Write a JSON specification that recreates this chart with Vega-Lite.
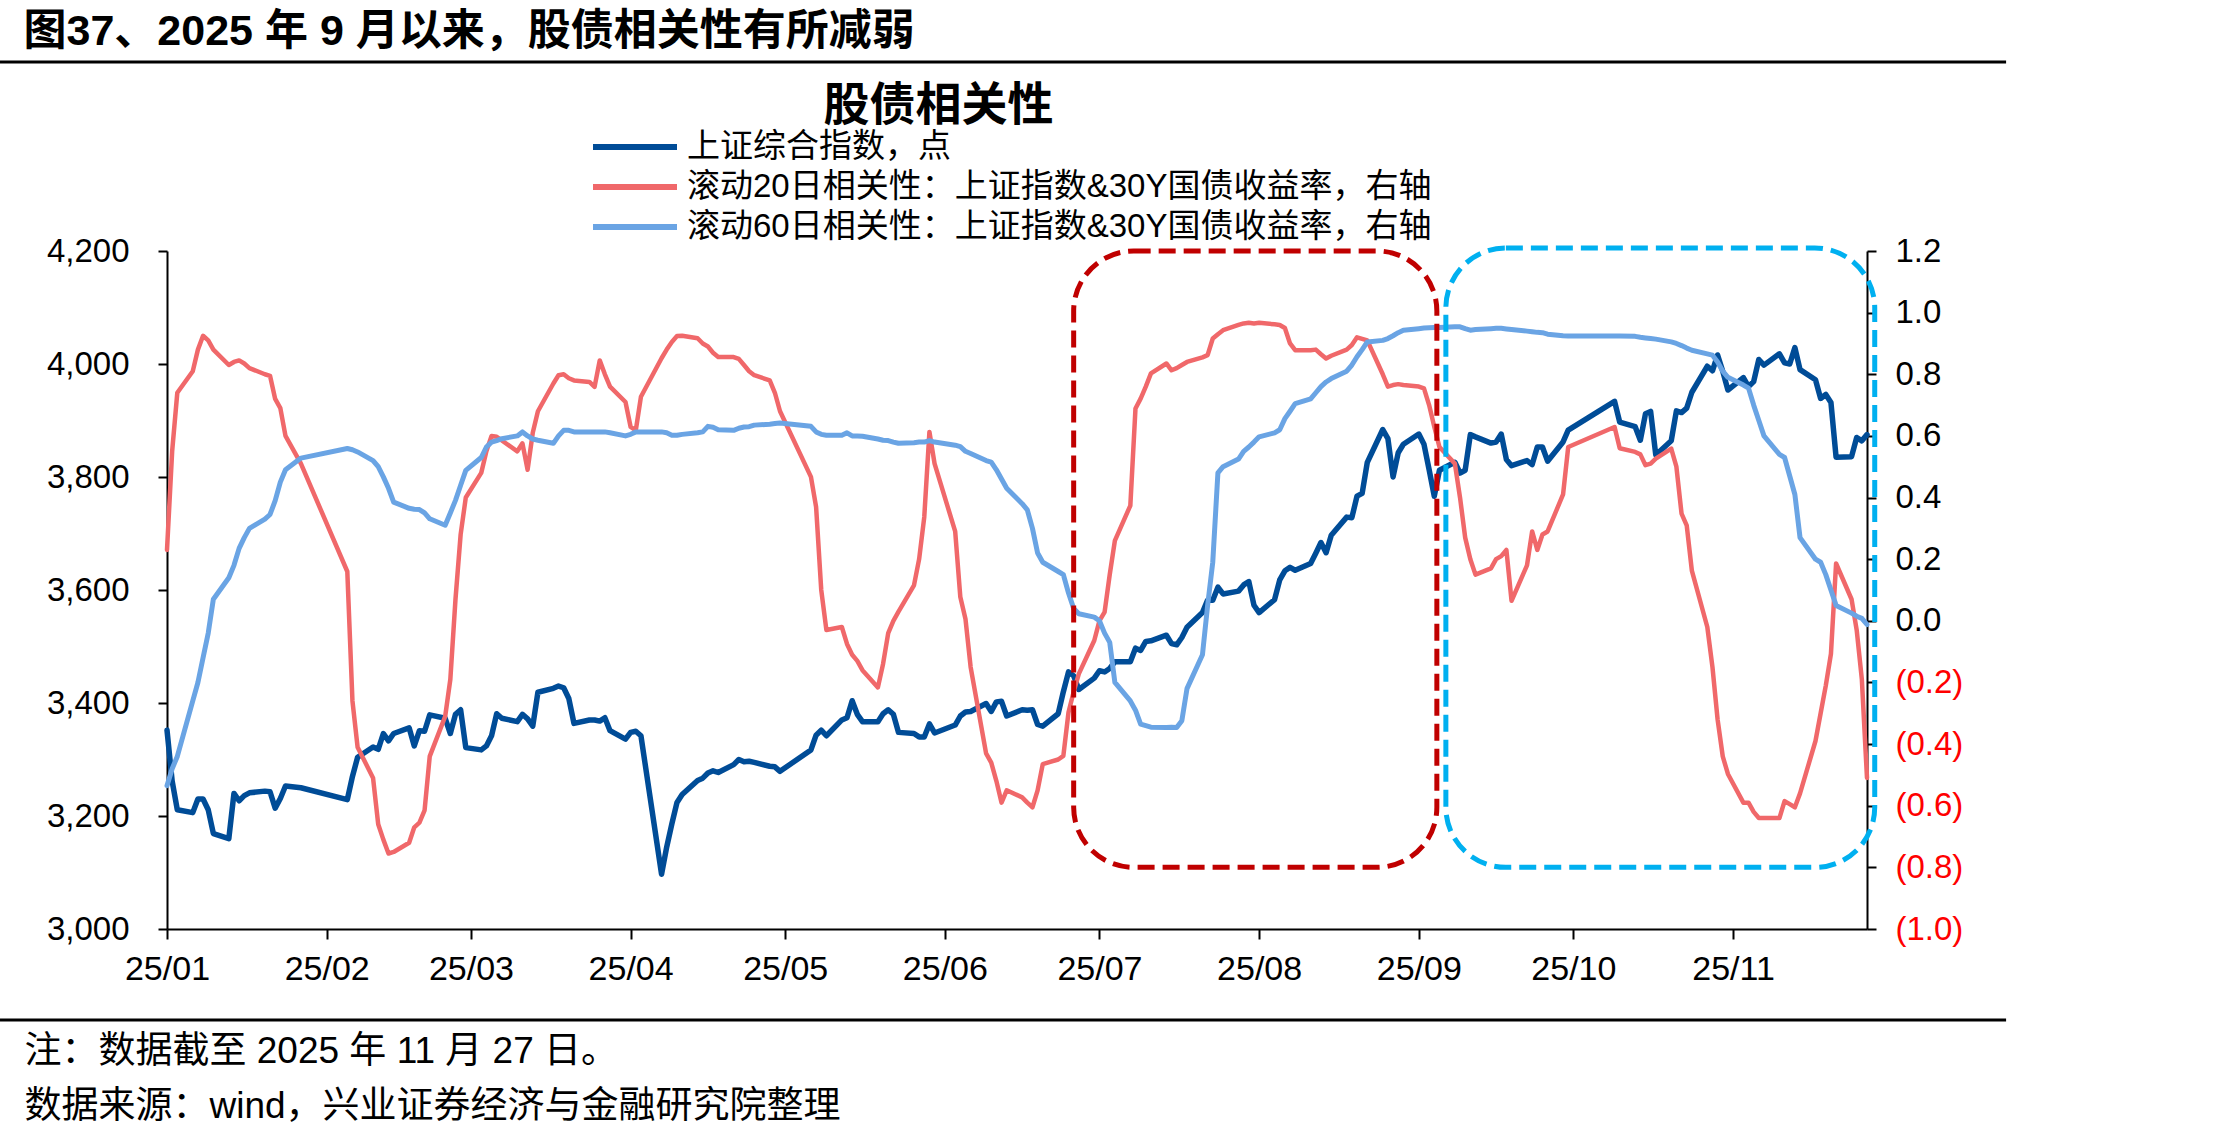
{
  "$schema": "https://vega.github.io/schema/vega-lite/v6.json",
  "width": 1700,
  "height": 678,
  "autosize": {"type": "none"},
  "padding": {"left": 167, "top": 251, "right": 354, "bottom": 210},
  "background": "#ffffff",
  "config": {
    "view": {"stroke": null},
    "font": "Liberation Sans, Noto Sans CJK SC, sans-serif",
    "axis": {
      "grid": false,
      "domainColor": "#000000",
      "domainWidth": 2,
      "tickColor": "#000000",
      "tickWidth": 2,
      "labelColor": "#000000",
      "labelFont": "Liberation Sans, Noto Sans CJK SC",
      "labelFontSize": 33,
      "titleFont": "Liberation Sans, Noto Sans CJK SC",
      "titleColor": "#000000",
      "titleLimit": 3000
    },
    "legend": {
      "orient": "none",
      "legendX": 423,
      "legendY": -124,
      "padding": 0,
      "offset": 0,
      "title": null,
      "symbolType": "stroke",
      "symbolSize": 7056,
      "symbolStrokeWidth": 6,
      "labelFont": "Liberation Sans, Noto Sans CJK SC",
      "labelFontSize": 33,
      "labelColor": "#000000",
      "labelOffset": 7,
      "labelLimit": 3000,
      "clipHeight": 40,
      "rowPadding": 0
    }
  },
  "datasets": {
    "sh": [
      {"date":"2025-01-01","value":3352},{"date":"2025-01-02","value":3262},{"date":"2025-01-03","value":3211},{"date":"2025-01-06","value":3206},{"date":"2025-01-07","value":3230},{"date":"2025-01-08","value":3230},{"date":"2025-01-09","value":3211},{"date":"2025-01-10","value":3169},{"date":"2025-01-13","value":3160},{"date":"2025-01-14","value":3240},{"date":"2025-01-15","value":3227},{"date":"2025-01-16","value":3236},{"date":"2025-01-17","value":3241},{"date":"2025-01-20","value":3244},{"date":"2025-01-21","value":3243},{"date":"2025-01-22","value":3214},{"date":"2025-01-23","value":3231},{"date":"2025-01-24","value":3253},{"date":"2025-01-27","value":3250},
      {"date":"2025-02-05","value":3229},{"date":"2025-02-06","value":3270},{"date":"2025-02-07","value":3304},{"date":"2025-02-10","value":3322},{"date":"2025-02-11","value":3318},{"date":"2025-02-12","value":3346},{"date":"2025-02-13","value":3333},{"date":"2025-02-14","value":3346},{"date":"2025-02-17","value":3356},{"date":"2025-02-18","value":3324},{"date":"2025-02-19","value":3351},{"date":"2025-02-20","value":3350},{"date":"2025-02-21","value":3379},{"date":"2025-02-24","value":3373},{"date":"2025-02-25","value":3346},{"date":"2025-02-26","value":3380},{"date":"2025-02-27","value":3388},{"date":"2025-02-28","value":3321},
      {"date":"2025-03-03","value":3317},{"date":"2025-03-04","value":3324},{"date":"2025-03-05","value":3342},{"date":"2025-03-06","value":3381},{"date":"2025-03-07","value":3373},{"date":"2025-03-10","value":3367},{"date":"2025-03-11","value":3380},{"date":"2025-03-12","value":3372},{"date":"2025-03-13","value":3359},{"date":"2025-03-14","value":3419},{"date":"2025-03-17","value":3426},{"date":"2025-03-18","value":3430},{"date":"2025-03-19","value":3427},{"date":"2025-03-20","value":3408},{"date":"2025-03-21","value":3364},{"date":"2025-03-24","value":3370},{"date":"2025-03-25","value":3370},{"date":"2025-03-26","value":3368},{"date":"2025-03-27","value":3374},{"date":"2025-03-28","value":3351},{"date":"2025-03-31","value":3336},
      {"date":"2025-04-01","value":3348},{"date":"2025-04-02","value":3350},{"date":"2025-04-03","value":3342},{"date":"2025-04-07","value":3097},{"date":"2025-04-08","value":3145},{"date":"2025-04-09","value":3186},{"date":"2025-04-10","value":3224},{"date":"2025-04-11","value":3238},{"date":"2025-04-14","value":3263},{"date":"2025-04-15","value":3267},{"date":"2025-04-16","value":3276},{"date":"2025-04-17","value":3280},{"date":"2025-04-18","value":3277},{"date":"2025-04-21","value":3291},{"date":"2025-04-22","value":3300},{"date":"2025-04-23","value":3296},{"date":"2025-04-24","value":3297},{"date":"2025-04-25","value":3295},{"date":"2025-04-28","value":3288},{"date":"2025-04-29","value":3287},{"date":"2025-04-30","value":3279},
      {"date":"2025-05-06","value":3317},{"date":"2025-05-07","value":3343},{"date":"2025-05-08","value":3352},{"date":"2025-05-09","value":3342},{"date":"2025-05-12","value":3370},{"date":"2025-05-13","value":3374},{"date":"2025-05-14","value":3404},{"date":"2025-05-15","value":3380},{"date":"2025-05-16","value":3367},{"date":"2025-05-19","value":3367},{"date":"2025-05-20","value":3381},{"date":"2025-05-21","value":3388},{"date":"2025-05-22","value":3380},{"date":"2025-05-23","value":3348},{"date":"2025-05-26","value":3346},{"date":"2025-05-27","value":3340},{"date":"2025-05-28","value":3340},{"date":"2025-05-29","value":3363},{"date":"2025-05-30","value":3347},
      {"date":"2025-06-03","value":3361},{"date":"2025-06-04","value":3377},{"date":"2025-06-05","value":3384},{"date":"2025-06-06","value":3385},{"date":"2025-06-09","value":3399},{"date":"2025-06-10","value":3385},{"date":"2025-06-11","value":3402},{"date":"2025-06-12","value":3403},{"date":"2025-06-13","value":3377},{"date":"2025-06-16","value":3388},{"date":"2025-06-17","value":3387},{"date":"2025-06-18","value":3388},{"date":"2025-06-19","value":3362},{"date":"2025-06-20","value":3359},{"date":"2025-06-23","value":3381},{"date":"2025-06-24","value":3420},{"date":"2025-06-25","value":3455},{"date":"2025-06-26","value":3448},{"date":"2025-06-27","value":3424},{"date":"2025-06-30","value":3444},
      {"date":"2025-07-01","value":3457},{"date":"2025-07-02","value":3455},{"date":"2025-07-03","value":3461},{"date":"2025-07-04","value":3473},{"date":"2025-07-07","value":3473},{"date":"2025-07-08","value":3497},{"date":"2025-07-09","value":3493},{"date":"2025-07-10","value":3509},{"date":"2025-07-11","value":3510},{"date":"2025-07-14","value":3520},{"date":"2025-07-15","value":3505},{"date":"2025-07-16","value":3503},{"date":"2025-07-17","value":3516},{"date":"2025-07-18","value":3534},{"date":"2025-07-21","value":3560},{"date":"2025-07-22","value":3582},{"date":"2025-07-23","value":3582},{"date":"2025-07-24","value":3605},{"date":"2025-07-25","value":3593},{"date":"2025-07-28","value":3598},{"date":"2025-07-29","value":3609},{"date":"2025-07-30","value":3615},{"date":"2025-07-31","value":3573},
      {"date":"2025-08-01","value":3560},{"date":"2025-08-04","value":3583},{"date":"2025-08-05","value":3618},{"date":"2025-08-06","value":3634},{"date":"2025-08-07","value":3640},{"date":"2025-08-08","value":3635},{"date":"2025-08-11","value":3647},{"date":"2025-08-12","value":3665},{"date":"2025-08-13","value":3684},{"date":"2025-08-14","value":3666},{"date":"2025-08-15","value":3697},{"date":"2025-08-18","value":3729},{"date":"2025-08-19","value":3728},{"date":"2025-08-20","value":3766},{"date":"2025-08-21","value":3771},{"date":"2025-08-22","value":3826},{"date":"2025-08-25","value":3884},{"date":"2025-08-26","value":3868},{"date":"2025-08-27","value":3800},{"date":"2025-08-28","value":3843},{"date":"2025-08-29","value":3858},
      {"date":"2025-09-01","value":3876},{"date":"2025-09-02","value":3858},{"date":"2025-09-03","value":3813},{"date":"2025-09-04","value":3766},{"date":"2025-09-05","value":3812},{"date":"2025-09-08","value":3826},{"date":"2025-09-09","value":3807},{"date":"2025-09-10","value":3812},{"date":"2025-09-11","value":3875},{"date":"2025-09-12","value":3871},{"date":"2025-09-15","value":3860},{"date":"2025-09-16","value":3862},{"date":"2025-09-17","value":3876},{"date":"2025-09-18","value":3831},{"date":"2025-09-19","value":3820},{"date":"2025-09-22","value":3829},{"date":"2025-09-23","value":3822},{"date":"2025-09-24","value":3853},{"date":"2025-09-25","value":3853},{"date":"2025-09-26","value":3828},{"date":"2025-09-29","value":3862},{"date":"2025-09-30","value":3883},
      {"date":"2025-10-09","value":3934},{"date":"2025-10-10","value":3897},{"date":"2025-10-13","value":3889},{"date":"2025-10-14","value":3865},{"date":"2025-10-15","value":3912},{"date":"2025-10-16","value":3916},{"date":"2025-10-17","value":3839},{"date":"2025-10-20","value":3864},{"date":"2025-10-21","value":3917},{"date":"2025-10-22","value":3914},{"date":"2025-10-23","value":3922},{"date":"2025-10-24","value":3950},{"date":"2025-10-27","value":3996},{"date":"2025-10-28","value":3988},{"date":"2025-10-29","value":4016},{"date":"2025-10-30","value":3987},{"date":"2025-10-31","value":3954},
      {"date":"2025-11-03","value":3976},{"date":"2025-11-04","value":3960},{"date":"2025-11-05","value":3969},{"date":"2025-11-06","value":4008},{"date":"2025-11-07","value":3998},{"date":"2025-11-10","value":4018},{"date":"2025-11-11","value":4002},{"date":"2025-11-12","value":4000},{"date":"2025-11-13","value":4029},{"date":"2025-11-14","value":3990},{"date":"2025-11-17","value":3972},{"date":"2025-11-18","value":3939},{"date":"2025-11-19","value":3946},{"date":"2025-11-20","value":3932},{"date":"2025-11-21","value":3835},{"date":"2025-11-24","value":3836},{"date":"2025-11-25","value":3870},{"date":"2025-11-26","value":3864},{"date":"2025-11-27","value":3875}
    ],
    "c20": [
      {"date":"2025-01-01","value":0.23},{"date":"2025-01-02","value":0.55},{"date":"2025-01-03","value":0.74},{"date":"2025-01-06","value":0.81},{"date":"2025-01-07","value":0.88},{"date":"2025-01-08","value":0.925},{"date":"2025-01-09","value":0.91},{"date":"2025-01-10","value":0.88},{"date":"2025-01-13","value":0.83},{"date":"2025-01-14","value":0.84},{"date":"2025-01-15","value":0.845},{"date":"2025-01-16","value":0.835},{"date":"2025-01-17","value":0.82},{"date":"2025-01-20","value":0.8},{"date":"2025-01-21","value":0.795},{"date":"2025-01-22","value":0.72},{"date":"2025-01-23","value":0.69},{"date":"2025-01-24","value":0.6},{"date":"2025-01-27","value":0.51},
      {"date":"2025-02-05","value":0.16},{"date":"2025-02-06","value":-0.26},{"date":"2025-02-07","value":-0.41},{"date":"2025-02-10","value":-0.51},{"date":"2025-02-11","value":-0.66},{"date":"2025-02-12","value":-0.71},{"date":"2025-02-13","value":-0.755},{"date":"2025-02-14","value":-0.75},{"date":"2025-02-17","value":-0.72},{"date":"2025-02-18","value":-0.67},{"date":"2025-02-19","value":-0.655},{"date":"2025-02-20","value":-0.615},{"date":"2025-02-21","value":-0.44},{"date":"2025-02-24","value":-0.31},{"date":"2025-02-25","value":-0.19},{"date":"2025-02-26","value":0.07},{"date":"2025-02-27","value":0.28},{"date":"2025-02-28","value":0.4},
      {"date":"2025-03-03","value":0.48},{"date":"2025-03-04","value":0.55},{"date":"2025-03-05","value":0.6},{"date":"2025-03-06","value":0.597},{"date":"2025-03-07","value":0.585},{"date":"2025-03-10","value":0.55},{"date":"2025-03-11","value":0.576},{"date":"2025-03-12","value":0.49},{"date":"2025-03-13","value":0.61},{"date":"2025-03-14","value":0.68},{"date":"2025-03-17","value":0.77},{"date":"2025-03-18","value":0.797},{"date":"2025-03-19","value":0.8},{"date":"2025-03-20","value":0.787},{"date":"2025-03-21","value":0.78},{"date":"2025-03-24","value":0.775},{"date":"2025-03-25","value":0.759},{"date":"2025-03-26","value":0.845},{"date":"2025-03-27","value":0.8},{"date":"2025-03-28","value":0.76},{"date":"2025-03-31","value":0.71},
      {"date":"2025-04-01","value":0.629},{"date":"2025-04-02","value":0.618},{"date":"2025-04-03","value":0.727},{"date":"2025-04-07","value":0.852},{"date":"2025-04-08","value":0.88},{"date":"2025-04-09","value":0.905},{"date":"2025-04-10","value":0.924},{"date":"2025-04-11","value":0.925},{"date":"2025-04-14","value":0.917},{"date":"2025-04-15","value":0.9},{"date":"2025-04-16","value":0.89},{"date":"2025-04-17","value":0.87},{"date":"2025-04-18","value":0.856},{"date":"2025-04-21","value":0.856},{"date":"2025-04-22","value":0.85},{"date":"2025-04-23","value":0.83},{"date":"2025-04-24","value":0.81},{"date":"2025-04-25","value":0.797},{"date":"2025-04-28","value":0.78},{"date":"2025-04-29","value":0.74},{"date":"2025-04-30","value":0.68},
      {"date":"2025-05-06","value":0.467},{"date":"2025-05-07","value":0.37},{"date":"2025-05-08","value":0.1},{"date":"2025-05-09","value":-0.03},{"date":"2025-05-12","value":-0.02},{"date":"2025-05-13","value":-0.075},{"date":"2025-05-14","value":-0.11},{"date":"2025-05-15","value":-0.13},{"date":"2025-05-16","value":-0.16},{"date":"2025-05-19","value":-0.216},{"date":"2025-05-20","value":-0.14},{"date":"2025-05-21","value":-0.04},{"date":"2025-05-22","value":0.0},{"date":"2025-05-23","value":0.03},{"date":"2025-05-26","value":0.115},{"date":"2025-05-27","value":0.2},{"date":"2025-05-28","value":0.337},{"date":"2025-05-29","value":0.613},{"date":"2025-05-30","value":0.51},
      {"date":"2025-06-03","value":0.29},{"date":"2025-06-04","value":0.077},{"date":"2025-06-05","value":0.006},{"date":"2025-06-06","value":-0.15},{"date":"2025-06-09","value":-0.43},{"date":"2025-06-10","value":-0.46},{"date":"2025-06-11","value":-0.52},{"date":"2025-06-12","value":-0.59},{"date":"2025-06-13","value":-0.55},{"date":"2025-06-16","value":-0.573},{"date":"2025-06-17","value":-0.59},{"date":"2025-06-18","value":-0.605},{"date":"2025-06-19","value":-0.55},{"date":"2025-06-20","value":-0.465},{"date":"2025-06-23","value":-0.45},{"date":"2025-06-24","value":-0.438},{"date":"2025-06-25","value":-0.297},{"date":"2025-06-26","value":-0.23},{"date":"2025-06-27","value":-0.172},{"date":"2025-06-30","value":-0.064},
      {"date":"2025-07-01","value":0.0},{"date":"2025-07-02","value":0.028},{"date":"2025-07-03","value":0.15},{"date":"2025-07-04","value":0.26},{"date":"2025-07-07","value":0.374},{"date":"2025-07-08","value":0.689},{"date":"2025-07-09","value":0.721},{"date":"2025-07-10","value":0.76},{"date":"2025-07-11","value":0.803},{"date":"2025-07-14","value":0.835},{"date":"2025-07-15","value":0.813},{"date":"2025-07-16","value":0.82},{"date":"2025-07-17","value":0.83},{"date":"2025-07-18","value":0.84},{"date":"2025-07-21","value":0.855},{"date":"2025-07-22","value":0.862},{"date":"2025-07-23","value":0.916},{"date":"2025-07-24","value":0.93},{"date":"2025-07-25","value":0.943},{"date":"2025-07-28","value":0.96},{"date":"2025-07-29","value":0.965},{"date":"2025-07-30","value":0.967},{"date":"2025-07-31","value":0.965},
      {"date":"2025-08-01","value":0.967},{"date":"2025-08-04","value":0.962},{"date":"2025-08-05","value":0.96},{"date":"2025-08-06","value":0.95},{"date":"2025-08-07","value":0.9},{"date":"2025-08-08","value":0.878},{"date":"2025-08-11","value":0.878},{"date":"2025-08-12","value":0.88},{"date":"2025-08-13","value":0.865},{"date":"2025-08-14","value":0.851},{"date":"2025-08-15","value":0.86},{"date":"2025-08-18","value":0.88},{"date":"2025-08-19","value":0.895},{"date":"2025-08-20","value":0.92},{"date":"2025-08-21","value":0.915},{"date":"2025-08-22","value":0.91},{"date":"2025-08-25","value":0.8},{"date":"2025-08-26","value":0.76},{"date":"2025-08-27","value":0.765},{"date":"2025-08-28","value":0.768},{"date":"2025-08-29","value":0.765},
      {"date":"2025-09-01","value":0.76},{"date":"2025-09-02","value":0.754},{"date":"2025-09-03","value":0.7},{"date":"2025-09-04","value":0.63},{"date":"2025-09-05","value":0.564},{"date":"2025-09-08","value":0.51},{"date":"2025-09-09","value":0.4},{"date":"2025-09-10","value":0.27},{"date":"2025-09-11","value":0.2},{"date":"2025-09-12","value":0.15},{"date":"2025-09-15","value":0.17},{"date":"2025-09-16","value":0.2},{"date":"2025-09-17","value":0.21},{"date":"2025-09-18","value":0.23},{"date":"2025-09-19","value":0.065},{"date":"2025-09-22","value":0.18},{"date":"2025-09-23","value":0.29},{"date":"2025-09-24","value":0.23},{"date":"2025-09-25","value":0.28},{"date":"2025-09-26","value":0.29},{"date":"2025-09-29","value":0.41},{"date":"2025-09-30","value":0.564},
      {"date":"2025-10-09","value":0.629},{"date":"2025-10-10","value":0.56},{"date":"2025-10-13","value":0.548},{"date":"2025-10-14","value":0.54},{"date":"2025-10-15","value":0.505},{"date":"2025-10-16","value":0.51},{"date":"2025-10-17","value":0.526},{"date":"2025-10-20","value":0.559},{"date":"2025-10-21","value":0.5},{"date":"2025-10-22","value":0.348},{"date":"2025-10-23","value":0.31},{"date":"2025-10-24","value":0.163},{"date":"2025-10-27","value":-0.02},{"date":"2025-10-28","value":-0.15},{"date":"2025-10-29","value":-0.32},{"date":"2025-10-30","value":-0.44},{"date":"2025-10-31","value":-0.497},
      {"date":"2025-11-03","value":-0.59},{"date":"2025-11-04","value":-0.59},{"date":"2025-11-05","value":-0.62},{"date":"2025-11-06","value":-0.64},{"date":"2025-11-07","value":-0.64},{"date":"2025-11-10","value":-0.64},{"date":"2025-11-11","value":-0.585},{"date":"2025-11-12","value":-0.595},{"date":"2025-11-13","value":-0.605},{"date":"2025-11-14","value":-0.56},{"date":"2025-11-17","value":-0.39},{"date":"2025-11-18","value":-0.3},{"date":"2025-11-19","value":-0.21},{"date":"2025-11-20","value":-0.107},{"date":"2025-11-21","value":0.186},{"date":"2025-11-24","value":0.07},{"date":"2025-11-25","value":-0.03},{"date":"2025-11-26","value":-0.19},{"date":"2025-11-27","value":-0.51}
    ],
    "c60": [
      {"date":"2025-01-01","value":-0.535},{"date":"2025-01-02","value":-0.48},{"date":"2025-01-03","value":-0.44},{"date":"2025-01-06","value":-0.26},{"date":"2025-01-07","value":-0.2},{"date":"2025-01-08","value":-0.12},{"date":"2025-01-09","value":-0.04},{"date":"2025-01-10","value":0.07},{"date":"2025-01-13","value":0.14},{"date":"2025-01-14","value":0.18},{"date":"2025-01-15","value":0.235},{"date":"2025-01-16","value":0.27},{"date":"2025-01-17","value":0.3},{"date":"2025-01-20","value":0.33},{"date":"2025-01-21","value":0.345},{"date":"2025-01-22","value":0.39},{"date":"2025-01-23","value":0.45},{"date":"2025-01-24","value":0.49},{"date":"2025-01-27","value":0.528},
      {"date":"2025-02-05","value":0.559},{"date":"2025-02-06","value":0.555},{"date":"2025-02-07","value":0.548},{"date":"2025-02-10","value":0.52},{"date":"2025-02-11","value":0.5},{"date":"2025-02-12","value":0.467},{"date":"2025-02-13","value":0.43},{"date":"2025-02-14","value":0.385},{"date":"2025-02-17","value":0.365},{"date":"2025-02-18","value":0.362},{"date":"2025-02-19","value":0.361},{"date":"2025-02-20","value":0.35},{"date":"2025-02-21","value":0.331},{"date":"2025-02-24","value":0.31},{"date":"2025-02-25","value":0.35},{"date":"2025-02-26","value":0.391},{"date":"2025-02-27","value":0.44},{"date":"2025-02-28","value":0.488},
      {"date":"2025-03-03","value":0.53},{"date":"2025-03-04","value":0.564},{"date":"2025-03-05","value":0.58},{"date":"2025-03-06","value":0.585},{"date":"2025-03-07","value":0.591},{"date":"2025-03-10","value":0.6},{"date":"2025-03-11","value":0.613},{"date":"2025-03-12","value":0.6},{"date":"2025-03-13","value":0.59},{"date":"2025-03-14","value":0.586},{"date":"2025-03-17","value":0.576},{"date":"2025-03-18","value":0.6},{"date":"2025-03-19","value":0.618},{"date":"2025-03-20","value":0.618},{"date":"2025-03-21","value":0.613},{"date":"2025-03-24","value":0.613},{"date":"2025-03-25","value":0.613},{"date":"2025-03-26","value":0.613},{"date":"2025-03-27","value":0.613},{"date":"2025-03-28","value":0.61},{"date":"2025-03-31","value":0.6},
      {"date":"2025-04-01","value":0.605},{"date":"2025-04-02","value":0.613},{"date":"2025-04-03","value":0.613},{"date":"2025-04-07","value":0.613},{"date":"2025-04-08","value":0.61},{"date":"2025-04-09","value":0.602},{"date":"2025-04-10","value":0.602},{"date":"2025-04-11","value":0.605},{"date":"2025-04-14","value":0.61},{"date":"2025-04-15","value":0.613},{"date":"2025-04-16","value":0.631},{"date":"2025-04-17","value":0.628},{"date":"2025-04-18","value":0.62},{"date":"2025-04-21","value":0.618},{"date":"2025-04-22","value":0.625},{"date":"2025-04-23","value":0.629},{"date":"2025-04-24","value":0.63},{"date":"2025-04-25","value":0.635},{"date":"2025-04-28","value":0.638},{"date":"2025-04-29","value":0.64},{"date":"2025-04-30","value":0.642},
      {"date":"2025-05-06","value":0.631},{"date":"2025-05-07","value":0.613},{"date":"2025-05-08","value":0.605},{"date":"2025-05-09","value":0.602},{"date":"2025-05-12","value":0.602},{"date":"2025-05-13","value":0.61},{"date":"2025-05-14","value":0.6},{"date":"2025-05-15","value":0.6},{"date":"2025-05-16","value":0.599},{"date":"2025-05-19","value":0.59},{"date":"2025-05-20","value":0.586},{"date":"2025-05-21","value":0.585},{"date":"2025-05-22","value":0.58},{"date":"2025-05-23","value":0.576},{"date":"2025-05-26","value":0.578},{"date":"2025-05-27","value":0.58},{"date":"2025-05-28","value":0.58},{"date":"2025-05-29","value":0.585},{"date":"2025-05-30","value":0.58},
      {"date":"2025-06-03","value":0.57},{"date":"2025-06-04","value":0.565},{"date":"2025-06-05","value":0.55},{"date":"2025-06-06","value":0.543},{"date":"2025-06-09","value":0.52},{"date":"2025-06-10","value":0.515},{"date":"2025-06-11","value":0.49},{"date":"2025-06-12","value":0.46},{"date":"2025-06-13","value":0.43},{"date":"2025-06-16","value":0.38},{"date":"2025-06-17","value":0.36},{"date":"2025-06-18","value":0.3},{"date":"2025-06-19","value":0.22},{"date":"2025-06-20","value":0.19},{"date":"2025-06-23","value":0.16},{"date":"2025-06-24","value":0.15},{"date":"2025-06-25","value":0.09},{"date":"2025-06-26","value":0.04},{"date":"2025-06-27","value":0.023},{"date":"2025-06-30","value":0.012},
      {"date":"2025-07-01","value":0.0},{"date":"2025-07-02","value":-0.04},{"date":"2025-07-03","value":-0.07},{"date":"2025-07-04","value":-0.2},{"date":"2025-07-07","value":-0.26},{"date":"2025-07-08","value":-0.29},{"date":"2025-07-09","value":-0.335},{"date":"2025-07-10","value":-0.34},{"date":"2025-07-11","value":-0.345},{"date":"2025-07-14","value":-0.346},{"date":"2025-07-15","value":-0.345},{"date":"2025-07-16","value":-0.346},{"date":"2025-07-17","value":-0.324},{"date":"2025-07-18","value":-0.22},{"date":"2025-07-21","value":-0.11},{"date":"2025-07-22","value":0.05},{"date":"2025-07-23","value":0.19},{"date":"2025-07-24","value":0.48},{"date":"2025-07-25","value":0.5},{"date":"2025-07-28","value":0.525},{"date":"2025-07-29","value":0.55},{"date":"2025-07-30","value":0.564},{"date":"2025-07-31","value":0.58},
      {"date":"2025-08-01","value":0.597},{"date":"2025-08-04","value":0.61},{"date":"2025-08-05","value":0.62},{"date":"2025-08-06","value":0.656},{"date":"2025-08-07","value":0.68},{"date":"2025-08-08","value":0.705},{"date":"2025-08-11","value":0.72},{"date":"2025-08-12","value":0.74},{"date":"2025-08-13","value":0.76},{"date":"2025-08-14","value":0.775},{"date":"2025-08-15","value":0.786},{"date":"2025-08-18","value":0.81},{"date":"2025-08-19","value":0.83},{"date":"2025-08-20","value":0.857},{"date":"2025-08-21","value":0.88},{"date":"2025-08-22","value":0.905},{"date":"2025-08-25","value":0.91},{"date":"2025-08-26","value":0.916},{"date":"2025-08-27","value":0.925},{"date":"2025-08-28","value":0.935},{"date":"2025-08-29","value":0.943},
      {"date":"2025-09-01","value":0.948},{"date":"2025-09-02","value":0.95},{"date":"2025-09-03","value":0.951},{"date":"2025-09-04","value":0.952},{"date":"2025-09-05","value":0.952},{"date":"2025-09-08","value":0.954},{"date":"2025-09-09","value":0.954},{"date":"2025-09-10","value":0.948},{"date":"2025-09-11","value":0.943},{"date":"2025-09-12","value":0.945},{"date":"2025-09-15","value":0.948},{"date":"2025-09-16","value":0.949},{"date":"2025-09-17","value":0.949},{"date":"2025-09-18","value":0.947},{"date":"2025-09-19","value":0.945},{"date":"2025-09-22","value":0.94},{"date":"2025-09-23","value":0.938},{"date":"2025-09-24","value":0.936},{"date":"2025-09-25","value":0.935},{"date":"2025-09-26","value":0.93},{"date":"2025-09-29","value":0.925},{"date":"2025-09-30","value":0.924},
      {"date":"2025-10-09","value":0.924},{"date":"2025-10-10","value":0.924},{"date":"2025-10-13","value":0.923},{"date":"2025-10-14","value":0.92},{"date":"2025-10-15","value":0.918},{"date":"2025-10-16","value":0.916},{"date":"2025-10-17","value":0.914},{"date":"2025-10-20","value":0.905},{"date":"2025-10-21","value":0.9},{"date":"2025-10-22","value":0.893},{"date":"2025-10-23","value":0.885},{"date":"2025-10-24","value":0.878},{"date":"2025-10-27","value":0.866},{"date":"2025-10-28","value":0.862},{"date":"2025-10-29","value":0.84},{"date":"2025-10-30","value":0.81},{"date":"2025-10-31","value":0.79},
      {"date":"2025-11-03","value":0.765},{"date":"2025-11-04","value":0.755},{"date":"2025-11-05","value":0.7},{"date":"2025-11-06","value":0.65},{"date":"2025-11-07","value":0.6},{"date":"2025-11-10","value":0.54},{"date":"2025-11-11","value":0.53},{"date":"2025-11-12","value":0.47},{"date":"2025-11-13","value":0.41},{"date":"2025-11-14","value":0.27},{"date":"2025-11-17","value":0.2},{"date":"2025-11-18","value":0.19},{"date":"2025-11-19","value":0.15},{"date":"2025-11-20","value":0.1},{"date":"2025-11-21","value":0.05},{"date":"2025-11-24","value":0.025},{"date":"2025-11-25","value":0.015},{"date":"2025-11-26","value":0.008},{"date":"2025-11-27","value":-0.012}
    ],
    "zones": [
      {"zone":"a","start":"2025-06-26T00:00:00Z","end":"2025-09-04T12:00:00Z","low":-0.8,"high":1.2},
      {"zone":"b","start":"2025-09-06T06:00:00Z","end":"2025-11-28T12:00:00Z","low":-0.8,"high":1.21}
    ]
  },
  "layer": [
    {
      "data": {"name": "sh"},
      "mark": {"type": "line", "strokeWidth": 5.5, "strokeJoin": "round", "strokeCap": "round"},
      "encoding": {
        "x": {
          "field": "date", "type": "temporal",
          "scale": {"type": "utc", "domain": ["2025-01-01T00:00:00Z", "2025-11-27T00:00:00Z"]},
          "axis": {
            "orient": "bottom",
            "tickCount": {"interval": "month", "step": 1},
            "labelExpr": "utcFormat(datum.value, '%y/%m')",
            "tickSize": 10, "labelPadding": 13, "labelFontSize": 34,
            "labelFlush": false, "labelOverlap": false,
            "title": ["注：数据截至 2025 年 11 月 27 日。", "数据来源：wind，兴业证券经济与金融研究院整理"],
            "titleX": -143, "titleY": 133, "titleAlign": "left", "titleAnchor": "start",
            "titleBaseline": "alphabetic", "titleAngle": 0,
            "titleFontSize": 37, "titleFontWeight": "normal", "titleLineHeight": 55
          }
        },
        "y": {
          "field": "value", "type": "quantitative",
          "scale": {"domain": [3000, 4200], "zero": false, "nice": false},
          "axis": {
            "orient": "left",
            "values": [3000, 3200, 3400, 3600, 3800, 4000, 4200],
            "format": ",d",
            "tickSize": 9, "labelPadding": 29,
            "title": "图37、2025 年 9 月以来，股债相关性有所减弱",
            "titleAngle": 0, "titleAlign": "left", "titleAnchor": "start", "titleBaseline": "alphabetic",
            "titleX": -144, "titleY": -207,
            "titleFontSize": 43, "titleFontWeight": "bold"
          }
        },
        "color": {
          "datum": "上证综合指数，点",
          "scale": {
            "domain": ["上证综合指数，点", "滚动20日相关性：上证指数&30Y国债收益率，右轴", "滚动60日相关性：上证指数&30Y国债收益率，右轴"],
            "range": ["#004C97", "#F0686A", "#6AA4E4"]
          },
          "legend": {"orient": "none", "direction": "vertical"}
        }
      }
    },
    {
      "data": {"name": "c20"},
      "mark": {"type": "line", "strokeWidth": 4.5, "strokeJoin": "round", "strokeCap": "round"},
      "encoding": {
        "x": {
          "field": "date", "type": "temporal",
          "axis": {
            "orient": "top", "domain": false, "ticks": false, "labels": false,
            "title": "股债相关性",
            "titleX": 771, "titleY": -132, "titleAlign": "center", "titleBaseline": "alphabetic", "titleAngle": 0,
            "titleFontSize": 46, "titleFontWeight": "bold"
          }
        },
        "y": {
          "field": "value", "type": "quantitative",
          "scale": {"domain": [-1, 1.2], "zero": false, "nice": false},
          "axis": {
            "orient": "right",
            "values": [-1, -0.8, -0.6, -0.4, -0.2, 0, 0.2, 0.4, 0.6, 0.8, 1, 1.2],
            "labelExpr": "datum.value < 0 ? '(' + format(-datum.value, '.1f') + ')' : format(datum.value, '.1f')",
            "labelColor": {"condition": {"test": "datum.value < 0", "value": "#FF0000"}, "value": "#000000"},
            "tickSize": 9, "labelPadding": 19, "labelFontSize": 33,
            "title": null
          }
        },
        "color": {"datum": "滚动20日相关性：上证指数&30Y国债收益率，右轴"}
      }
    },
    {
      "data": {"name": "c60"},
      "mark": {"type": "line", "strokeWidth": 5, "strokeJoin": "round", "strokeCap": "round"},
      "encoding": {
        "x": {"field": "date", "type": "temporal", "axis": null},
        "y": {"field": "value", "type": "quantitative", "scale": {"domain": [-1, 1.2], "zero": false, "nice": false}, "axis": null},
        "color": {"datum": "滚动60日相关性：上证指数&30Y国债收益率，右轴"}
      }
    },
    {
      "data": {"name": "zones"},
      "mark": {"type": "rect", "filled": false, "fill": "transparent", "strokeWidth": 5, "strokeDash": [17, 8], "cornerRadius": 60},
      "encoding": {
        "x": {"field": "start", "type": "temporal", "axis": null},
        "x2": {"field": "end"},
        "y": {"field": "high", "type": "quantitative", "scale": {"domain": [-1, 1.2], "zero": false, "nice": false}, "axis": null},
        "y2": {"field": "low"},
        "stroke": {"field": "zone", "type": "nominal", "scale": {"domain": ["a", "b"], "range": ["#C00000", "#00B0F0"]}, "legend": null}
      }
    },
    {
      "data": {"values": [{}]},
      "mark": {"type": "rule", "color": "#000000", "strokeWidth": 3},
      "encoding": {
        "x": {"datum": {"year": 2024, "month": 11, "date": 29, "hours": 14, "utc": true}, "type": "temporal", "axis": null},
        "x2": {"datum": {"year": 2025, "month": 12, "date": 24, "utc": true}},
        "y": {"datum": 1.8133, "type": "quantitative", "scale": {"domain": [-1, 1.2], "zero": false, "nice": false}, "axis": null}
      }
    },
    {
      "data": {"values": [{}]},
      "mark": {"type": "rule", "color": "#000000", "strokeWidth": 3},
      "encoding": {
        "x": {"datum": {"year": 2024, "month": 11, "date": 29, "hours": 14, "utc": true}, "type": "temporal", "axis": null},
        "x2": {"datum": {"year": 2025, "month": 12, "date": 24, "utc": true}},
        "y": {"datum": -1.2953, "type": "quantitative", "scale": {"domain": [-1, 1.2], "zero": false, "nice": false}, "axis": null}
      }
    }
  ],
  "resolve": {"scale": {"y": "independent"}, "axis": {"x": "independent", "y": "independent"}}
}
